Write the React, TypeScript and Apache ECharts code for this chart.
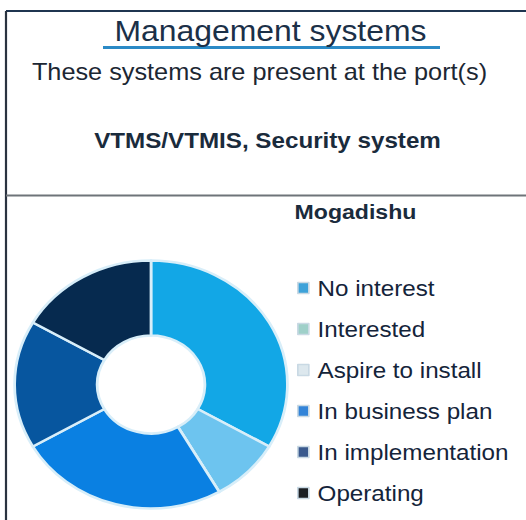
import React, { useEffect, useRef } from "react";
import * as echarts from "echarts";

const titleText = "Management systems";
const subtitleText = "These systems are present at the port(s)";
const systemsText = "VTMS/VTMIS, Security system";
const portName = "Mogadishu";

const categories = [
  "No interest",
  "Interested",
  "Aspire to install",
  "In business plan",
  "In implementation",
  "Operating",
];
const values = [4, 1, 0, 3, 2, 2];
const sliceColors = ["#12a7e6", "#6dc4ef", "#cfe6f3", "#0a80e2", "#07569f", "#062a4f"];
const legendColors = ["#3da2d9", "#9fd0c9", "#dde8ee", "#3384d8", "#3b5a8e", "#1b1f24"];

const SX = 1.1; // horizontal stretch of the original picture
const W = 479;
const H = 520;
const FONT = "'Liberation Sans', Arial, sans-serif";
const INK = "#14243a";

export default function App() {
  const ref = useRef<HTMLDivElement>(null);

  useEffect(() => {
    if (!ref.current) return;
    const chart = echarts.init(ref.current, undefined, { renderer: "svg" });
    const px = (x: number) => x / SX;

    chart.setOption({
      animation: false,
      backgroundColor: "#ffffff",
      legend: {
        orient: "vertical",
        left: px(297),
        top: 277,
        padding: 0,
        itemWidth: 10,
        itemHeight: 11,
        itemGap: 19,
        selectedMode: false,
        icon: "rect",
        textStyle: {
          fontFamily: FONT,
          fontSize: 22,
          lineHeight: 22,
          color: INK,
          padding: [0, 0, 0, 3],
        },
        data: categories.map((name, i) => ({
          name,
          itemStyle: {
            color: legendColors[i],
            borderColor: "#c9d9e4",
            borderWidth: 1.5,
          },
        })),
      },
      series: [
        {
          type: "pie",
          center: [px(151), 384.5],
          radius: [49, 124],
          startAngle: 90,
          clockwise: true,
          silent: true,
          label: { show: false },
          labelLine: { show: false },
          emphasis: { disabled: true },
          itemStyle: {
            borderColor: "#d8eef9",
            borderWidth: 2.5,
          },
          data: categories.map((name, i) => ({
            name,
            value: values[i],
            itemStyle: { color: sliceColors[i] },
          })),
        },
      ],
      graphic: [
        {
          type: "line",
          shape: { x1: px(6), y1: 11, x2: W, y2: 11 },
          style: { stroke: "#1f3550", lineWidth: 2 },
        },
        {
          type: "line",
          shape: { x1: px(6), y1: 11, x2: px(6), y2: H },
          style: { stroke: "#2a3340", lineWidth: 2 },
        },
        {
          type: "line",
          shape: { x1: px(6), y1: 195.5, x2: W, y2: 195.5 },
          style: { stroke: "#6e7479", lineWidth: 2 },
        },
        {
          type: "line",
          shape: { x1: px(103), y1: 47.5, x2: px(440), y2: 47.5 },
          style: { stroke: "#2b8ac6", lineWidth: 3 },
        },
        {
          type: "text",
          x: px(270.5),
          y: 31,
          style: {
            text: titleText,
            font: `29px ${FONT}`,
            fill: "#1b3048",
            align: "center",
            verticalAlign: "middle",
          },
        },
        {
          type: "text",
          x: px(259.5),
          y: 72,
          style: {
            text: subtitleText,
            font: `23px ${FONT}`,
            fill: "#1c2733",
            align: "center",
            verticalAlign: "middle",
          },
        },
        {
          type: "text",
          x: px(267.5),
          y: 140,
          style: {
            text: systemsText,
            font: `bold 22px ${FONT}`,
            fill: "#1a2b3c",
            align: "center",
            verticalAlign: "middle",
          },
        },
        {
          type: "text",
          x: px(355.5),
          y: 212,
          style: {
            text: portName,
            font: `bold 21px ${FONT}`,
            fill: "#1a2b3c",
            align: "center",
            verticalAlign: "middle",
          },
        },
      ],
    });

    return () => chart.dispose();
  }, []);

  return (
    <div
      style={{
        position: "fixed",
        left: 0,
        top: 0,
        width: 526,
        height: 520,
        overflow: "hidden",
        background: "#ffffff",
      }}
    >
      <div
        ref={ref}
        style={{
          width: W,
          height: H,
          transform: `scaleX(${SX})`,
          transformOrigin: "0 0",
        }}
      />
    </div>
  );
}
